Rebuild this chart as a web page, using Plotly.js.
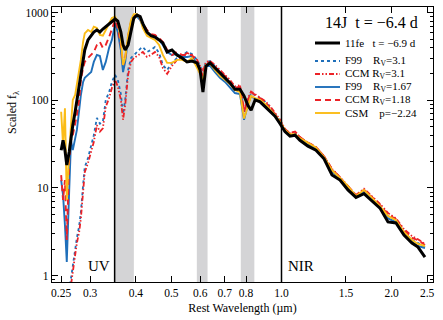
<!DOCTYPE html>
<html>
<head>
<meta charset="utf-8">
<script src="https://cdn.plot.ly/plotly-3.0.1.min.js"></script>
<style>
  html, body { margin: 0; padding: 0; background: #fff; }
  #plot { width: 443px; height: 320px; }
</style>
</head>
<body>
<div id="plot"></div>
<script>
// rest wavelength grid (micron)
const wave = [0.250, 0.253, 0.256, 0.259, 0.263, 0.266, 0.269, 0.273, 0.276, 0.280,
  0.283, 0.287, 0.290, 0.296, 0.302, 0.307, 0.313, 0.319, 0.325, 0.331,
  0.338, 0.344, 0.351, 0.357, 0.364, 0.369, 0.374, 0.381, 0.388, 0.395,
  0.403, 0.411, 0.418, 0.429, 0.440, 0.451, 0.463, 0.474, 0.487, 0.502,
  0.518, 0.535, 0.552, 0.569, 0.588, 0.599, 0.610, 0.622, 0.638, 0.658,
  0.679, 0.701, 0.723, 0.746, 0.770, 0.790, 0.810, 0.826, 0.847, 0.874,
  0.902, 0.930, 0.960, 0.991, 1.022, 1.055, 1.089, 1.123, 1.181, 1.242,
  1.307, 1.374, 1.445, 1.519, 1.598, 1.680, 1.767, 1.858, 1.954, 2.055,
  2.161, 2.272, 2.360, 2.466];

const sn11fe = [27, 35, 27, 18.3, 25.7, 40, 52, 74, 101, 138,
  180, 274, 375, 488, 545, 601, 634, 601, 650, 690,
  750, 800, 845, 800, 601, 428, 375, 428, 634, 867,
  939, 900, 750, 601, 545, 527, 488, 451, 356, 375,
  329, 304, 274, 280, 267, 222, 124, 246, 267, 234,
  205, 180, 158, 134, 134, 112, 87, 77, 101, 96,
  84, 75, 66, 54, 44, 39, 40, 35, 30, 27,
  21.5, 14.1, 12.3, 9.5, 7.8, 8.6, 7.1, 5.9, 4.1, 4.0,
  2.9, 2.36, 2.12, 1.63];

const f99rv31 = [null, null, null, null, 0.68, 0.97, 1.32, 1.96, 2.7, 3.7,
  5.3, 10.8, 17.3, 22, 29.4, 40, 63, 54, 57, 101,
  124, 162, 195, 171, 118, 70, 101, 222, 304, 329,
  356, 386, 406, 356, 375, 406, 347, 253, 222, 267,
  304, 320, 356, 338, 289, 246, 210, 274, 280, 246,
  215, 190, 162, 138, 138, 74, 101, 121, 115, 106,
  96, 84, 70, 58, 46, 41, 42, 37, 32, 29,
  22.6, 16, 13, 10.3, 8.1, 9.2, 7.5, 6.2, 4.8, 4.3,
  3.15, 2.55, 2.36, 2.12];

const ccmrv31 = [null, null, null, null, 0.56, 0.82, 1.16, 1.72, 2.36, 3.15,
  4.5, 8.3, 15.1, 19.3, 25.7, 33.5, 52, 44, 48, 84,
  106, 138, 171, 144, 101, 60, 88, 195, 274, 304,
  320, 338, 356, 312, 329, 356, 312, 234, 200, 246,
  289, 312, 347, 329, 289, 246, 215, 274, 280, 253,
  222, 195, 171, 144, 149, 77, 106, 126, 118, 108,
  98, 86, 71, 60, 47, 42, 44, 38, 33, 29.4,
  23, 16.5, 13.3, 10.5, 8.3, 9.8, 8.1, 6.6, 5.2, 4.5,
  3.4, 2.83, 2.6, 2.3];

const f99rv167 = [12.3, 8.3, 3.8, 1.43, 9.5, 35, 27, 35, 46, 77,
  115, 162, 180, 195, 210, 274, 329, 320, 222, 274,
  396, 488, 750, 601, 375, 210, 274, 514, 782, 920,
  900, 823, 700, 580, 556, 545, 488, 428, 356, 329,
  338, 312, 312, 320, 260, 210, 180, 246, 246, 210,
  180, 162, 141, 121, 118, 60, 91, 112, 103, 98,
  88, 77, 66, 55, 44, 40, 40, 36, 31, 28,
  22, 15.6, 12.6, 10, 7.9, 9, 7.3, 6.1, 4.5, 4.1,
  3.0, 2.42, 2.18, 2.07];

const ccmrv118 = [14, 7.3, 12.3, 2.55, 21, 35, 40, 52, 68, 101,
  171, 234, 274, 304, 329, 356, 428, 463, 396, 428,
  527, 667, 823, 667, 428, 253, 304, 545, 782, 920,
  920, 845, 750, 634, 570, 556, 514, 463, 375, 329,
  356, 329, 329, 329, 274, 222, 190, 260, 274, 240,
  210, 190, 162, 138, 144, 74, 101, 124, 115, 106,
  96, 81, 70, 58, 47, 42, 44, 38, 33, 29.4,
  23, 16.5, 13.3, 10.5, 8.3, 9.5, 7.9, 6.4, 5.0, 4.4,
  3.3, 2.7, 2.55, 2.24];

const csm = [74, 31, 81, 7.3, 27, 60, 101, 115, 149, 210,
  289, 463, 580, 634, 601, 690, 667, 556, 545, 634,
  750, 867, 900, 782, 488, 253, 304, 556, 823, 960,
  960, 867, 667, 545, 514, 488, 428, 329, 267, 267,
  289, 289, 274, 304, 234, 195, 171, 253, 260, 222,
  190, 171, 153, 131, 124, 62, 88, 112, 106, 101,
  91, 79, 68, 57, 46, 41, 41, 37, 33, 29,
  22.6, 16, 13, 10.5, 8.1, 9.5, 7.7, 6.2, 4.8, 4.3,
  3.15, 2.55, 2.3, 2.18];

const bands = [[0.35, 0.395], [0.587, 0.628], [0.774, 0.843]];
const regionEdges = [0.35, 1.0];
const xTicks = [0.25, 0.3, 0.4, 0.5, 0.6, 0.7, 0.8, 1.0, 1.5, 2.0, 2.5];
const xTickText = ['0.25', '0.3', '0.4', '0.5', '0.6', '0.7', '0.8', '1.0', '1.5', '2.0', '2.5'];

const FONT = 'Liberation Serif, Times New Roman, serif';
const BLUE = '#1f6fba';
const RED = '#ec2227';
const GOLD = '#fbbc17';

// draw order: back to front; legend order given by "row"
const series = [
  { y: f99rv31, label: 'F99&nbsp;&nbsp;&nbsp;&nbsp;R<sub>V</sub>=3.1', color: BLUE, dash: 'dot', width: 1.8, row: 1 },
  { y: ccmrv31, label: 'CCM&nbsp;R<sub>V</sub>=3.1', color: RED, dash: '5px,2px,1.5px,2px,1.5px,2px', width: 1.8, row: 2 },
  { y: f99rv167, label: 'F99&nbsp;&nbsp;&nbsp;&nbsp;R<sub>V</sub>=1.67', color: BLUE, dash: 'solid', width: 1.9, row: 3 },
  { y: ccmrv118, label: 'CCM&nbsp;R<sub>V</sub>=1.18', color: RED, dash: '6px,4px', width: 1.9, row: 4 },
  { y: csm, label: 'CSM&nbsp;&nbsp;&nbsp;&nbsp;p=\u22122.24', color: GOLD, dash: 'solid', width: 1.9, row: 5 },
  { y: sn11fe, label: '11fe&nbsp;&nbsp;&nbsp;t = \u22126.9 d', color: '#000', dash: 'solid', width: 3, row: 0 },
];

const traces = series.map(s => ({
  x: wave,
  y: s.y,
  mode: 'lines',
  line: { color: s.color, width: s.width, dash: s.dash },
  connectgaps: false,
  showlegend: false,
  hoverinfo: 'skip',
}));

// plot area in px: x 52..433, y 7..282
const px = v => (v - 52) / 381;
const py = v => (282 - v) / 275;

const shapes = [];
bands.forEach(b => shapes.push({
  type: 'rect', xref: 'x', yref: 'paper', x0: b[0], x1: b[1], y0: 0, y1: 1,
  fillcolor: '#d4d4d6', line: { width: 0 }, layer: 'below',
}));
regionEdges.forEach(e => shapes.push({
  type: 'line', xref: 'x', yref: 'paper', x0: e, x1: e, y0: 0, y1: 1,
  line: { color: '#000', width: 1.5 },
}));

const legendRows = [43, 61, 74, 87, 100, 113];
const annotations = [];
series.forEach(s => {
  const yy = py(legendRows[s.row]);
  shapes.push({
    type: 'line', xref: 'paper', yref: 'paper', x0: px(315), x1: px(340), y0: yy, y1: yy,
    line: { color: s.color, width: s.width, dash: s.dash },
  });
  annotations.push({
    xref: 'paper', yref: 'paper', x: px(343), y: yy, xanchor: 'left', yanchor: 'middle',
    text: s.label, showarrow: false, font: { family: FONT, size: 11, color: '#000' },
  });
});

annotations.push(
  { xref: 'paper', yref: 'paper', x: px(420), y: py(22), xanchor: 'right', yanchor: 'middle',
    text: '14J&nbsp;&nbsp;t = \u22126.4 d', showarrow: false, font: { family: FONT, size: 16, color: '#000' } },
  { xref: 'paper', yref: 'paper', x: px(112), y: py(266), xanchor: 'right', yanchor: 'middle',
    text: 'UV', showarrow: false, font: { family: FONT, size: 15, color: '#000' } },
  { xref: 'paper', yref: 'paper', x: px(286), y: py(266), xanchor: 'left', yanchor: 'middle',
    text: 'NIR', showarrow: false, font: { family: FONT, size: 15, color: '#000' } },
  { xref: 'paper', yref: 'paper', x: px(13), y: py(112), xanchor: 'center', yanchor: 'middle',
    text: 'Scaled f<sub>\u03bb</sub>', textangle: -90, showarrow: false, font: { family: FONT, size: 12, color: '#000' } }
);

Plotly.newPlot('plot', traces, {
  width: 443,
  height: 320,
  margin: { l: 52, r: 10, t: 7, b: 38 },
  paper_bgcolor: '#fff',
  plot_bgcolor: '#fff',
  font: { family: FONT, color: '#000' },
  showlegend: false,
  xaxis: {
    type: 'log',
    range: [Math.log10(0.236), Math.log10(2.594)],
    tickmode: 'array',
    tickvals: xTicks,
    ticktext: xTickText,
    ticks: 'inside', ticklen: 6, tickwidth: 1, tickcolor: '#000',
    showline: true, linecolor: '#000', linewidth: 1.3, mirror: 'ticks',
    showgrid: false, zeroline: false,
    tickfont: { family: FONT, size: 11.5, color: '#000' },
    title: { text: 'Rest Wavelength (\u00b5m)', font: { family: FONT, size: 12, color: '#000' }, standoff: 5 },
  },
  yaxis: {
    type: 'log',
    range: [-0.072, 3.064],
    tickmode: 'linear', tick0: 0, dtick: 1,
    exponentformat: 'none',
    ticks: 'inside', ticklen: 6, tickwidth: 1, tickcolor: '#000',
    minor: { ticks: 'inside', ticklen: 3, tickcolor: '#000', showgrid: false },
    showline: true, linecolor: '#000', linewidth: 1.3, mirror: 'ticks',
    showgrid: false, zeroline: false,
    tickfont: { family: FONT, size: 11.5, color: '#000' },
  },
  shapes: shapes,
  annotations: annotations,
}, { staticPlot: true, displayModeBar: false });
</script>
</body>
</html>
